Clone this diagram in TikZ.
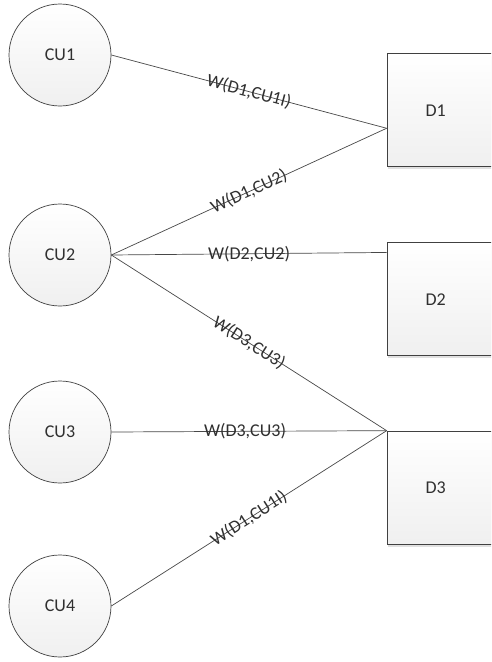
\documentclass[tikz,border=0pt]{standalone}
\usepackage{fontspec}
\setmainfont{Carlito}
\usetikzlibrary{calc,shadows}
\definecolor{edgegray}{RGB}{64,64,64}
\definecolor{inkgray}{RGB}{48,48,48}
\definecolor{linkgray}{RGB}{72,72,72}
\tikzset{
  x=1pt, y=-1pt,
  lbl/.style={font=\fontsize{18}{20}\selectfont, text=inkgray, inner sep=0pt},
  unit/.style={circle, draw=edgegray, line width=0.7pt, minimum size=102pt,
    top color=white, bottom color=gray!12, lbl},
  dev/.style={rectangle, draw=edgegray, line width=0.7pt, minimum width=120pt,
    minimum height=113pt, top color=white, bottom color=gray!12,
    drop shadow={shadow xshift=1pt, shadow yshift=-2.5pt, fill=gray!40, opacity=0.6}},
  link/.style={draw=linkgray, line width=0.7pt},
  wlabel/.style={lbl, midway}
}
\begin{document}
\begin{tikzpicture}
  \useasboundingbox (0,0) rectangle (491,662);
  \clip (0,0) rectangle (491,662);
  \fill[white] (0,0) rectangle (491,662);

  % user units
  \node[unit] (cu1) at (60,55)  {CU1};
  \node[unit] (cu2) at (60,255) {CU2};
  \node[unit] (cu3) at (60,432) {CU3};
  \node[unit] (cu4) at (60,606) {CU4};

  % devices (their right part runs past the page edge)
  \node[dev] (d1) at (447,109.5) {};
  \node[dev] (d2) at (447,298.5) {};
  \node[dev] (d3) at (447,487.5) {};
  \node[lbl] (t1) at ($(d1.west)+(49,1)$) {D1};
  \node[lbl] (t2) at ($(d2.west)+(49,1)$) {D2};
  \node[lbl] (t3) at ($(d3.west)+(49,0)$) {D3};

  % attachment points on the device boxes
  \coordinate (a1) at ($(d1.north west)!0.665!(d1.south west)$);
  \coordinate (a2) at ($(d2.north west)!0.095!(d2.south west)$);
  \coordinate (a3) at (d3.north west);

  % weighted links
  \draw[link] (cu1.east) -- node[wlabel, sloped] {W(D1,CU1I)} (a1);
  \draw[link] (cu2.east) -- node[wlabel, sloped] {W(D1,CU2)} (a1);
  \draw[link] (cu2.east) -- node[wlabel] {W(D2,CU2)} (a2);
  \draw[link] (cu2.east) -- node[wlabel, sloped] {W(D3,CU3)} (a3);
  \draw[link] (cu3.east) -- node[wlabel, xshift=-4pt] {W(D3,CU3)} (a3);
  \draw[link] (cu4.east) -- node[wlabel, sloped] {W(D1,CU1I)} (a3);
\end{tikzpicture}
\end{document}
